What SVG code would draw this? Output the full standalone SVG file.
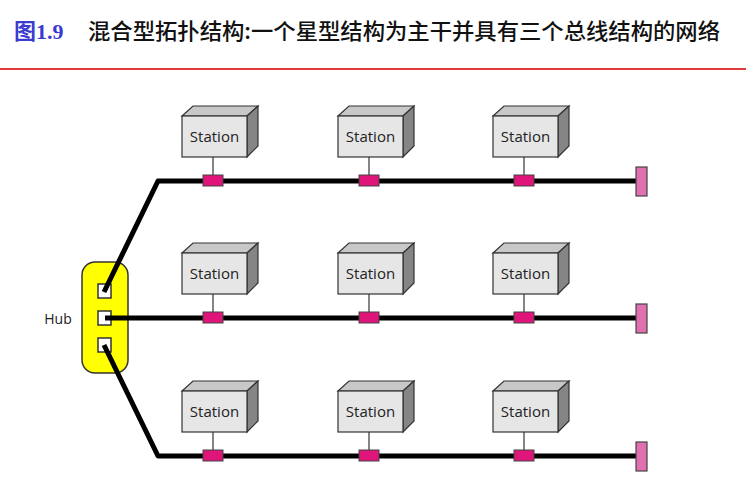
<svg xmlns="http://www.w3.org/2000/svg" width="746" height="504" viewBox="0 0 746 504">
<style>
.front{fill:#e6e6e6;stroke:#333;stroke-width:1.2}
.top{fill:#c8c8c8;stroke:#333;stroke-width:1.2}
.side{fill:#858585;stroke:#333;stroke-width:1.2}
.lbl{font-family:"Open Sans","DejaVu Sans",sans-serif;font-size:15px;fill:#222;text-anchor:middle}
.stem{stroke:#333;stroke-width:1.2}
.tap{fill:#e0157a;stroke:#444;stroke-width:1}
.bus{stroke:#000;stroke-width:5;fill:none;stroke-linejoin:round}
.term{fill:#e070b0;stroke:#444;stroke-width:1.2}
.port{fill:#fff;stroke:#333;stroke-width:1.5}
</style>
<defs>
<g id="station">
<polygon class="top" points="0,0 11,-10 76,-10 65,0"/>
<polygon class="side" points="65,0 76,-10 76,30 65,41"/>
<rect class="front" x="0" y="0" width="65" height="41"/>
<text class="lbl" x="32.5" y="26">Station</text>
<line class="stem" x1="31" y1="41" x2="31" y2="59"/>
<rect class="tap" x="21" y="59" width="20" height="11"/>
</g>
</defs>
<rect width="746" height="504" fill="#fff"/>
<g id="title">
<text x="14" y="39" font-family="'Liberation Serif','Noto Sans CJK SC',serif" font-weight="bold" font-size="22" fill="#3b3bd0"><tspan font-family="'Noto Sans CJK SC',sans-serif">图</tspan>1.9</text>
<text x="88" y="39" font-family="'Noto Sans CJK SC',sans-serif" font-weight="500" font-size="21.5" fill="#111" textLength="632" lengthAdjust="spacingAndGlyphs">混合型拓扑结构:一个星型结构为主干并具有三个总线结构的网络</text>
<line x1="0" y1="69" x2="746" y2="69" stroke="#e03a3a" stroke-width="2"/>
</g>
<g id="hub">
<rect x="82" y="262" width="46" height="111" rx="13" fill="#ffff00" stroke="#333" stroke-width="1.5"/>
<rect class="port" x="98" y="284" width="13" height="14"/>
<rect class="port" x="98" y="311" width="13" height="14"/>
<rect class="port" x="98" y="338" width="13" height="14"/>
<text x="58" y="324" font-family="'Open Sans','DejaVu Sans',sans-serif" font-size="14" fill="#222" text-anchor="middle">Hub</text>
</g>
<g id="connectors">
<polyline class="bus" points="104,292 158,181 636,181"/>
<polyline class="bus" points="105,318 636,318"/>
<polyline class="bus" points="104,345 158,456 636,456"/>
</g>
<g id="station-1-1"><use href="#station" x="182" y="116"/></g>
<g id="station-1-2"><use href="#station" x="338" y="116"/></g>
<g id="station-1-3"><use href="#station" x="493" y="116"/></g>
<g id="station-2-1"><use href="#station" x="182" y="253"/></g>
<g id="station-2-2"><use href="#station" x="338" y="253"/></g>
<g id="station-2-3"><use href="#station" x="493" y="253"/></g>
<g id="station-3-1"><use href="#station" x="182" y="391"/></g>
<g id="station-3-2"><use href="#station" x="338" y="391"/></g>
<g id="station-3-3"><use href="#station" x="493" y="391"/></g>
<g id="terminator-1"><rect class="term" x="636" y="167" width="11" height="29"/></g>
<g id="terminator-2"><rect class="term" x="636" y="304" width="11" height="29"/></g>
<g id="terminator-3"><rect class="term" x="636" y="442" width="11" height="29"/></g>
</svg>
